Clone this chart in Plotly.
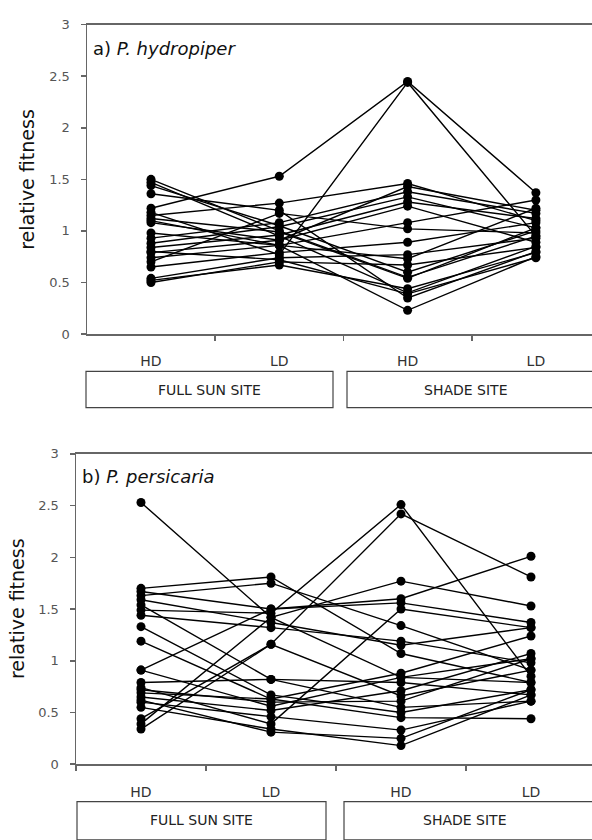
import plotly.graph_objects as go

# category positions (HD/LD at full sun site, HD/LD at shade site)
categories = [0, 1, 2, 3]
tick_labels = ["HD", "LD", "HD", "LD"]
y_ticks = [0, 0.5, 1, 1.5, 2, 2.5, 3]
y_tick_text = ["0", "0.5", "1", "1.5", "2", "2.5", "3"]

# a) P. hydropiper : relative fitness per genotype [HD sun, LD sun, HD shade, LD shade]
hydro_hd_sun   = [1.50, 1.47, 1.44, 1.36, 1.22, 1.18, 1.15, 1.10, 1.08, 0.93, 0.88, 0.84, 0.79, 0.74, 0.70, 0.65, 0.54, 0.50, 0.52, 0.98, 1.12, 0.80]
hydro_ld_sun   = [1.00, 0.95, 1.05, 1.20, 1.53, 0.77, 1.27, 0.86, 0.91, 1.08, 1.04, 0.96, 0.91, 0.86, 1.17, 0.79, 0.74, 0.70, 0.67, 0.86, 0.99, 0.72]
hydro_hd_shade = [0.55, 0.40, 0.60, 0.35, 2.45, 2.44, 1.46, 0.23, 1.43, 1.38, 1.33, 1.28, 1.24, 1.08, 1.02, 0.89, 0.77, 0.67, 0.44, 0.73, 0.54, 0.39]
hydro_ld_shade = [0.95, 0.85, 1.00, 0.80, 1.37, 0.95, 1.10, 0.75, 1.20, 1.17, 1.03, 1.12, 0.89, 1.30, 0.98, 1.08, 0.93, 0.84, 0.79, 1.22, 1.03, 0.74]

# b) P. persicaria
pers_hd_sun   = [2.53, 1.70, 1.63, 1.67, 1.59, 1.54, 1.49, 1.44, 1.33, 1.19, 0.91, 0.79, 0.74, 0.69, 0.65, 0.60, 0.55, 0.44, 0.39, 0.34, 0.62, 0.72, 0.91]
pers_ld_sun   = [1.42, 1.81, 1.75, 1.50, 1.37, 0.82, 1.46, 1.32, 0.67, 0.63, 1.50, 0.82, 0.39, 0.63, 0.52, 0.46, 0.34, 1.16, 1.42, 1.16, 0.31, 0.60, 0.56]
pers_hd_shade = [0.84, 1.07, 1.34, 1.60, 1.15, 0.55, 2.51, 1.19, 0.50, 0.88, 1.56, 0.79, 1.50, 0.45, 0.71, 0.33, 0.18, 2.42, 1.77, 0.66, 0.25, 0.61, 0.84]
pers_ld_shade = [1.02, 0.79, 0.91, 2.01, 1.32, 0.61, 0.85, 0.98, 0.72, 1.24, 1.37, 0.67, 1.32, 0.44, 1.07, 0.61, 0.67, 1.81, 1.53, 0.91, 0.72, 1.02, 0.79]

W, H = 592, 840
FONT = "DejaVu Sans"

fig = go.Figure()

def add_panel(cols, xa, ya):
    for vals in zip(*cols):
        fig.add_trace(go.Scatter(
            x=categories, y=list(vals), xaxis=xa, yaxis=ya,
            mode="lines+markers",
            line=dict(color="black", width=1.4),
            marker=dict(color="black", size=9),
            showlegend=False, hoverinfo="skip"))

add_panel([hydro_hd_sun, hydro_ld_sun, hydro_hd_shade, hydro_ld_shade], "x", "y")
add_panel([pers_hd_sun, pers_ld_sun, pers_hd_shade, pers_ld_shade], "x2", "y2")

def px_x(p):
    return p / W

def px_y(p):
    return 1 - p / H

axis_color = "#666"
tick_font = dict(family=FONT, size=13, color="#555")

def xaxis_cfg(left_px, first_px, step_px):
    right = (W - first_px) / step_px
    left = (left_px - first_px) / step_px
    return dict(
        domain=[px_x(left_px), 1], range=[left, right],
        tickmode="array", tickvals=categories, ticktext=tick_labels,
        ticks="", showgrid=False, zeroline=False,
        showline=True, linecolor=axis_color, linewidth=1.5, mirror=True,
        tickfont=dict(family=FONT, size=14, color="#333"),
        ticklabelstandoff=14,
        minor=dict(tickmode="array", tickvals=[-0.5, 0.5, 1.5, 2.5],
                   ticks="outside", ticklen=5, tickcolor=axis_color, tickwidth=1.5),
        fixedrange=True)

def yaxis_cfg(top_px, bottom_px):
    return dict(
        domain=[px_y(bottom_px), px_y(top_px)], range=[0, 3],
        tickmode="array", tickvals=y_ticks, ticktext=y_tick_text,
        ticks="outside", ticklen=5, tickcolor=axis_color, tickwidth=1.5,
        showgrid=False, zeroline=False,
        showline=True, linecolor=axis_color, linewidth=1.5, mirror=False,
        tickfont=tick_font, ticklabelstandoff=8,
        fixedrange=True)

fig.update_layout(
    width=W, height=H,
    margin=dict(l=0, r=0, t=0, b=0),
    paper_bgcolor="white", plot_bgcolor="white",
    font=dict(family=FONT, color="#222"),
    xaxis=dict(**xaxis_cfg(87, 151, 128.3), anchor="y"),
    yaxis=dict(**yaxis_cfg(18, 333), anchor="x"),
    xaxis2=dict(**xaxis_cfg(76, 141, 130), anchor="y2"),
    yaxis2=dict(**yaxis_cfg(455, 771), anchor="x2"),
)

# panel labels
fig.add_annotation(x=px_x(91), y=px_y(42), xref="paper", yref="paper",
                   text="a) <i>P. hydropiper</i>", showarrow=False,
                   xanchor="left", yanchor="middle",
                   font=dict(family=FONT, size=18, color="#111"))
fig.add_annotation(x=px_x(80), y=px_y(478), xref="paper", yref="paper",
                   text="b) <i>P. persicaria</i>", showarrow=False,
                   xanchor="left", yanchor="middle",
                   font=dict(family=FONT, size=18, color="#111"))

# y titles
for xc, yc in [(27, 176), (17, 613)]:
    fig.add_annotation(x=px_x(xc), y=px_y(yc), xref="paper", yref="paper",
                       text="relative fitness", showarrow=False, textangle=-90,
                       xanchor="center", yanchor="middle",
                       font=dict(family=FONT, size=19, color="#111"))

# site boxes
boxes = [
    (86, 333, 371, 408, "FULL SUN SITE"),
    (347, 600, 371, 408, "SHADE SITE"),
    (77, 326, 809, 848, "FULL SUN SITE"),
    (344, 600, 809, 848, "SHADE SITE"),
]
for x0, x1, y0, y1, label in boxes:
    fig.add_shape(type="rect", xref="paper", yref="paper",
                  x0=px_x(x0), x1=px_x(x1), y0=px_y(y1), y1=px_y(y0),
                  line=dict(color="#444", width=1.2), fillcolor="rgba(0,0,0,0)")
    xc = (x0 + x1) / 2 if x1 <= 592 else (x0 + 592) / 2 - 4
    fig.add_annotation(x=px_x(xc), y=px_y(y0 + 19), xref="paper", yref="paper",
                       text=label, showarrow=False, xanchor="center", yanchor="middle",
                       font=dict(family=FONT, size=14, color="#222"))

fig.write_html(
    "out.html",
    config={"displayModeBar": False, "staticPlot": True},
    post_script="document.body.style.margin='0';document.body.style.overflow='hidden';",
)
